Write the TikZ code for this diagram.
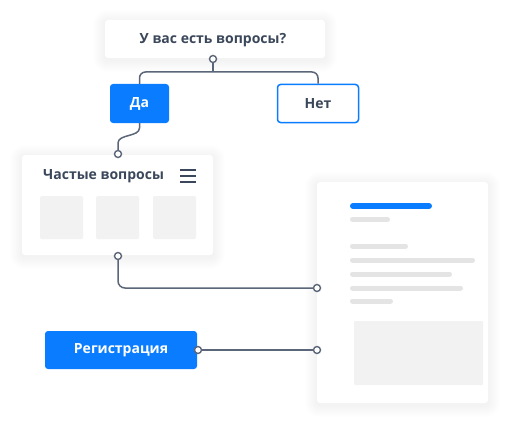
\documentclass[tikz,border=0pt]{standalone}
\usepackage{fontspec}
\setmainfont{Open Sans}
\usetikzlibrary{backgrounds}

\definecolor{brand}{HTML}{0A7CFF}
\definecolor{ink}{HTML}{3B475A}
\definecolor{wire}{HTML}{5B6678}
\definecolor{placeholder}{HTML}{F2F2F2}
\definecolor{skeleton}{HTML}{E4E4E4}

\tikzset{
  card/.style={fill=white, rounded corners=3pt, inner sep=0pt},
  label/.style={font=\fontsize{14}{16}\selectfont\bfseries, text=ink},
  solidbtn/.style={fill=brand, rounded corners=3pt, inner sep=0pt,
    font=\fontsize{14}{16}\selectfont\bfseries, text=white},
  outlinebtn/.style={fill=white, draw=brand, line width=1.5pt,
    rounded corners=3pt, inner sep=0pt,
    font=\fontsize{14}{16}\selectfont\bfseries, text=ink},
  tile/.style={fill=placeholder, rounded corners=1.5pt, inner sep=0pt,
    minimum width=43pt, minimum height=43pt},
  port/.style={circle, draw=wire, fill=white, line width=1.4pt,
    inner sep=0pt, minimum size=7pt},
  wire/.style={draw=wire, line width=1.5pt},
  bar/.style={line cap=round, line width=5pt, draw=skeleton},
}

% soft drop shadow behind a card: stacked translucent rings
\newcommand{\cardshadow}[1]{%
  \foreach \r in {1,...,12}
    \fill[black, opacity=0.0045, rounded corners=3pt+\r pt]
      ([shift={(-\r,-\r+2)}]#1.north west) rectangle
      ([shift={(\r,\r+2)}]#1.south east);}

\begin{document}
\begin{tikzpicture}[x=1pt, y=-1pt]
  \useasboundingbox (0,0) rectangle (510,425);

  % question card
  \node[card, minimum width=220pt, minimum height=38pt] (question) at (215,39) {};
  \node[label] (questiontext) at (213,40) {У вас есть вопросы?};

  % answer buttons
  \node[solidbtn, minimum width=59pt, minimum height=39pt] (yes) at (139.5,103.5) {Да};
  \node[outlinebtn, minimum width=81pt, minimum height=38pt] (no) at (318,103.5) {Нет};

  % FAQ card
  \node[card, minimum width=191pt, minimum height=100pt] (faq) at (117.5,205) {};
  \node[label, anchor=west, inner sep=0pt] (faqtitle) at (43,176) {Частые вопросы};
  \coordinate (menuL) at (180,170);
  \coordinate (menuR) at (196,170);
  \foreach \dy in {0,6,12}
    \draw[ink, line width=1.5pt] ([yshift=-\dy pt]menuL) -- ([yshift=-\dy pt]menuR);
  \node[tile] (tileA) at (61.5,217.5) {};
  \node[tile] (tileB) at (117.5,217.5) {};
  \node[tile] (tileC) at (174.5,217.5) {};

  % document card
  \node[card, minimum width=171pt, minimum height=221pt] (doc) at (402.5,292.5) {};
  \draw[line cap=round, line width=6pt, draw=brand] (353,206) -- (429,206);
  \draw[bar] (352.5,219.5) -- (387.5,219.5);
  \draw[bar] (352.5,246) -- (405.5,246);
  \draw[bar] (352.5,260) -- (472.5,260);
  \draw[bar] (352.5,274) -- (449.5,274);
  \draw[bar] (352.5,288) -- (460.5,288);
  \draw[bar] (352.5,301) -- (390.5,301);
  \node[fill=placeholder, inner sep=0pt, minimum width=129pt,
        minimum height=64pt, rounded corners=1pt] (docimage) at (418.5,353) {};

  % registration button
  \node[solidbtn, minimum width=152pt, minimum height=38pt] (signup) at (121,350) {Регистрация};

  % connection points
  \node[port] (qport) at (213,59) {};
  \coordinate (split) at (213,72);
  \node[port] (faqin) at (118,154) {};
  \node[port] (faqout) at (118,256) {};
  \node[port] (docin) at (317,288) {};
  \node[port] (signupout) at (198,350) {};
  \node[port] (docinb) at (317,350) {};

  % connectors
  \draw[wire] (qport) -- (split);
  \draw[wire, rounded corners=6pt] (split) -| (yes.north);
  \draw[wire, rounded corners=6pt] (split) -| (no.north);
  \coordinate (bendA) at (139.5,128);
  \coordinate (bendB) at (118,143);
  \draw[wire] (yes.south) -- (bendA)
    .. controls (139.5,137) and (118,134) .. (bendB) -- (faqin);
  \draw[wire, rounded corners=7pt] (faqout) |- (docin);
  \draw[wire] (signupout) -- (docinb);

  % page background and card shadows
  \begin{pgfonlayer}{background}
    \fill[white] (0,0) rectangle (510,425);
    \cardshadow{question}
    \cardshadow{faq}
    \cardshadow{doc}
  \end{pgfonlayer}
\end{tikzpicture}
\end{document}
